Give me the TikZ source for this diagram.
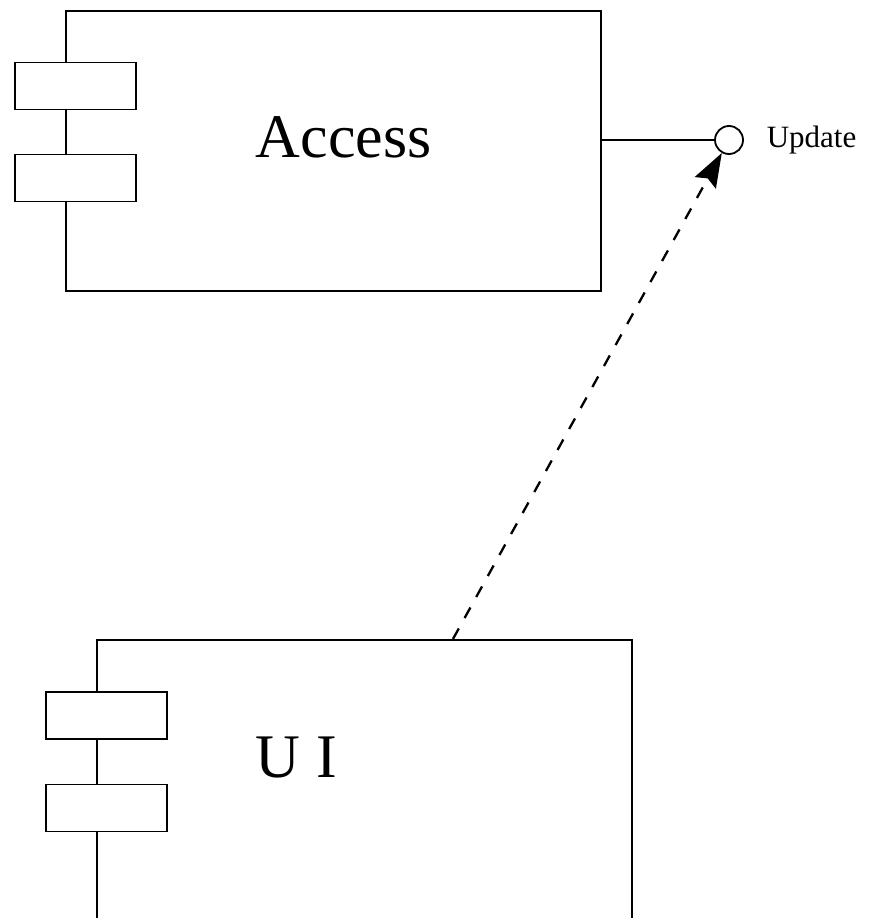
\documentclass[tikz,border=0pt]{standalone}
\usepackage{fontspec}
\setmainfont{Liberation Serif}
\usetikzlibrary{positioning, arrows.meta, calc}

\begin{document}
\begin{tikzpicture}[
    x=1pt, y=-1pt,
    line width=1.8pt,
    % Component boxes, their side tabs and the provided interface
    component/.style={rectangle, draw=black, fill=white, minimum width=535pt, inner sep=0pt, anchor=north west},
    tab/.style={rectangle, draw=black, fill=white, minimum width=121pt, minimum height=47pt, inner sep=0pt},
    iface/.style={circle, draw=black, fill=white, minimum size=28pt, inner sep=0pt},
    biglabel/.style={font=\fontsize{62}{70}\selectfont, anchor=base west, inner sep=0pt},
    depend/.style={-{Stealth[length=34pt, width=24pt, inset=5pt]}, line width=2.3pt, dash pattern=on 12pt off 12pt}
]

\useasboundingbox (0,0) rectangle (880,918);
\clip (0,0) rectangle (880,918);

% --- Components ---

% Access
\node[component, minimum height=280pt] (access) at (65,10) {};
\node[tab] (accesstab1) at ($(access.north west)+(10.5,76)$) {};
\node[tab] (accesstab2) at ($(access.north west)+(10.5,168)$) {};
\node[biglabel] (accesslabel) at ($(access.north west)+(190,147)$) {Access};

% UI (runs off the bottom)
\node[component, minimum height=400pt] (ui) at (96,639) {};
\node[tab] (uitab1) at ($(ui.north west)+(10.5,76.5)$) {};
\node[tab] (uitab2) at ($(ui.north west)+(10.5,169)$) {};
\node[biglabel] (uilabel) at ($(ui.north west)+(159,138)$) {U I};

% --- Interface ---
\node[iface] (update) at (729,140) {};
\node[right=22pt of update, font=\fontsize{31}{36}\selectfont, inner sep=0pt] (updatelabel) {Update};

% --- Connectors ---
\draw (update.west -| access.east) -- (update.west);

\coordinate (uitop) at ($(ui.north west)!0.665!(ui.north east)$);
\draw[depend] (uitop) -- (update);

\end{tikzpicture}
\end{document}
